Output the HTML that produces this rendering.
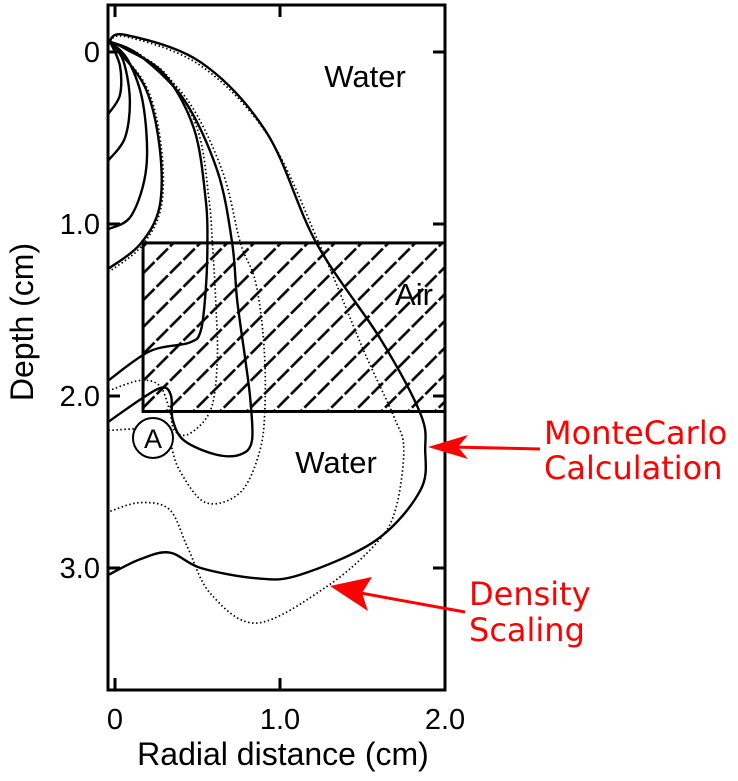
<!DOCTYPE html>
<html><head><meta charset="utf-8"><style>
html,body{margin:0;padding:0;background:#fff;}
svg{display:block;font-family:"Liberation Sans",sans-serif;}
</style></head><body>
<svg id="chart" width="738" height="781" viewBox="0 0 738 781">
<defs>
<pattern id="hatch" patternUnits="userSpaceOnUse" width="19" height="19" patternTransform="rotate(45)">
<line x1="9.5" y1="0" x2="9.5" y2="19" stroke="#000" stroke-width="2.6" stroke-dasharray="16 3"/>
</pattern>
<clipPath id="plotclip"><rect x="108" y="5" width="337" height="685"/></clipPath>
</defs>
<g id="plot"></g>
</svg>
<script>
const xTicks=[0,1.0,2.0];
const xTickLabels=["0","1.0","2.0"];
const yTicks=[0,1.0,2.0,3.0];
const yTickLabels=["0","1.0","2.0","3.0"];
const airRegion=[0.17,2.0,1.11,2.09]; // r0,r1,d0,d1
const mcOuter=[[-0.04,-0.05],[0.06,-0.10],[0.52,0.06],[0.92,0.47],[1.22,1.11],[1.61,1.67],[1.85,2.10],[1.88,2.31],[1.85,2.55],[1.58,2.84],[1.12,3.04],[0.86,3.06],[0.52,3.00],[0.33,2.91],[0.15,2.95],[-0.04,3.04]];
const dsOuter=[[-0.04,-0.04],[0.06,-0.09],[0.52,0.08],[0.93,0.49],[1.24,1.12],[1.50,1.72],[1.69,2.12],[1.75,2.31],[1.70,2.66],[1.58,2.86],[1.28,3.11],[0.86,3.32],[0.58,3.15],[0.44,2.88],[0.33,2.66],[0.15,2.62],[-0.03,2.67]];
const mcB=[[-0.04,2.15],[0.17,2.01],[0.29,1.95],[0.34,2.00],[0.35,2.14],[0.42,2.26],[0.61,2.34],[0.76,2.34],[0.83,2.26],[0.82,2.02],[0.79,1.79],[0.74,1.44],[0.71,1.11],[0.62,0.69],[0.42,0.28],[0.15,0.02],[-0.03,-0.06]];
const dsB=[[-0.04,2.20],[0.27,2.19],[0.33,2.26],[0.39,2.43],[0.55,2.62],[0.76,2.56],[0.88,2.31],[0.91,2.02],[0.90,1.67],[0.85,1.33],[0.76,1.11],[0.65,0.69],[0.44,0.28],[0.16,0.02],[-0.03,-0.05]];
const mcC=[[-0.04,1.91],[0.21,1.74],[0.45,1.69],[0.52,1.62],[0.55,1.38],[0.56,1.11],[0.55,0.86],[0.48,0.45],[0.30,0.13],[0.06,-0.02],[-0.03,-0.06]];
const dsC=[[-0.04,1.97],[0.15,1.91],[0.27,1.94],[0.33,2.08],[0.36,2.20],[0.45,2.22],[0.58,2.08],[0.62,1.79],[0.61,1.44],[0.59,1.11],[0.57,0.86],[0.50,0.45],[0.31,0.13],[0.07,-0.02],[-0.03,-0.06]];
const mcD=[[-0.04,1.26],[0.15,1.12],[0.27,0.90],[0.27,0.55],[0.18,0.20],[-0.03,-0.06]];
const dsD=[[-0.04,1.28],[0.16,1.13],[0.28,0.90],[0.28,0.55],[0.19,0.20],[-0.03,-0.06]];
const mcE=[[-0.04,1.03],[0.10,0.95],[0.19,0.67],[0.17,0.30],[0.08,0.05],[-0.03,-0.06]];
const mcF=[[-0.04,0.63],[0.06,0.50],[0.09,0.28],[0.05,0.05],[-0.03,-0.06]];
const mcG=[[-0.04,0.36],[0.03,0.25],[0.03,0.08],[-0.03,-0.06]];

const X=r=>115+r*165;
const Y=d=>52+d*172;
const NS="http://www.w3.org/2000/svg";
const g=document.getElementById('plot');
function mk(tag,attrs,parent){const e=document.createElementNS(NS,tag);for(const k in attrs)e.setAttribute(k,attrs[k]);(parent||g).appendChild(e);return e;}
function smooth(pts){const p=pts.map(q=>[X(q[0]),Y(q[1])]);let s="M"+p[0][0]+","+p[0][1];
for(let i=0;i<p.length-1;i++){const p0=p[i-1]||p[i],p1=p[i],p2=p[i+1],p3=p[i+2]||p2;
s+=" C"+(p1[0]+(p2[0]-p0[0])/6)+","+(p1[1]+(p2[1]-p0[1])/6)+" "+(p2[0]-(p3[0]-p1[0])/6)+","+(p2[1]-(p3[1]-p1[1])/6)+" "+p2[0]+","+p2[1];}return s;}

const air=mk('rect',{x:X(airRegion[0]),y:Y(airRegion[2]),width:X(airRegion[1])-X(airRegion[0]),height:Y(airRegion[3])-Y(airRegion[2]),fill:'url(#hatch)',stroke:'#000','stroke-width':3});



const clipG=mk('g',{'clip-path':'url(#plotclip)'});
const series=[["mc-outer",mcOuter,0],["ds-outer",dsOuter,1],["mc-b",mcB,0],["ds-b",dsB,1],["mc-c",mcC,0],["ds-c",dsC,1],["mc-d",mcD,0],["ds-d",dsD,1],["mc-e",mcE,0],["mc-f",mcF,0],["mc-g",mcG,0]];
series.forEach(s=>{
 const a={d:smooth(s[1]),fill:'none',stroke:'#000'};
 if(s[2]){a['stroke-width']=1.7;a['stroke-dasharray']='1.5 2.5';}else{a['stroke-width']=2.4;}
 const p=mk('path',a,clipG);
 
 
});

const fr=mk('rect',{x:108,y:5,width:337,height:685,fill:'none',stroke:'#000','stroke-width':3});



xTicks.forEach((v,i)=>{
 if(i<2){mk('line',{x1:X(v),x2:X(v),y1:690,y2:678,stroke:'#000','stroke-width':3});mk('line',{x1:X(v),x2:X(v),y1:5,y2:17,stroke:'#000','stroke-width':3});}
 const t=mk('text',{x:X(v),y:729,'font-size':29,'text-anchor':'middle'});t.textContent=xTickLabels[i];
 
 
});
yTicks.forEach((v,i)=>{
 mk('line',{x1:108,x2:120,y1:Y(v),y2:Y(v),stroke:'#000','stroke-width':3});
 mk('line',{x1:445,x2:433,y1:Y(v),y2:Y(v),stroke:'#000','stroke-width':3});
 const t=mk('text',{x:100,y:Y(v)+10,'font-size':29,'text-anchor':'end'});t.textContent=yTickLabels[i];
 
 
});

function label(txt,x,y,size,name,color,anchor,fam){const t=mk('text',{x:x,y:y,'font-size':size,fill:color||'#000','text-anchor':anchor||'middle'});if(fam)t.setAttribute('font-family',fam);t.textContent=txt;
 
 return t;}
label("Water",365,87,31,'water-label-top');
label("Air",414,305,31,'air-label');
label("Water",336,473,31,'water-label-bottom');
const c=mk('circle',{cx:153,cy:438,r:20,fill:'#fff',stroke:'#000','stroke-width':2});


label("A",153,448,27,'point-a-label');
label("Radial distance (cm)",283,765,32,'x-axis-title');
const yt=label("Depth (cm)",0,0,32,'y-axis-title');
yt.setAttribute('transform','translate(33,322) rotate(-90)');
label("MonteCarlo",544,444,32,'montecarlo-label','#f00','start','DejaVu Sans, sans-serif');
label("Calculation",544,479,32,'calculation-label','#f00','start','DejaVu Sans, sans-serif');
label("Density",469,605,32,'density-label','#f00','start','DejaVu Sans, sans-serif');
label("Scaling",469,641,32,'scaling-label','#f00','start','DejaVu Sans, sans-serif');
const a1=mk('line',{x1:540,y1:449,x2:450,y2:447,stroke:'#f00','stroke-width':3});


mk('polygon',{points:'428,447 468,435 458,447 468,459',fill:'#f00'});
const a2=mk('line',{x1:465,y1:612,x2:355,y2:592,stroke:'#f00','stroke-width':3});


mk('polygon',{points:'330,586 372,577 362,593 368,611',fill:'#f00'});
</script>
</body></html>
